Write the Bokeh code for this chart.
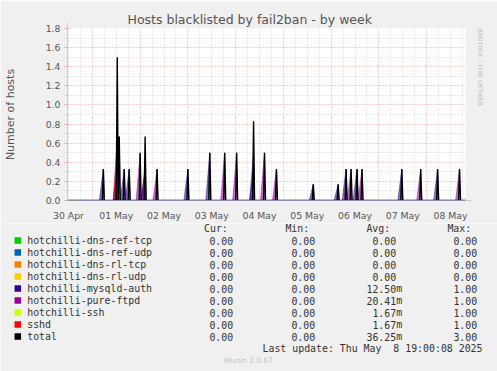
import numpy as np
import pandas as pd
from bokeh.plotting import figure
from bokeh.models import (Range1d, FixedTicker, Grid, Title, PrintfTickFormatter,
                          DatetimeTickFormatter, ColumnDataSource, Arrow, NormalHead)
from bokeh.layouts import column
from bokeh.embed import file_html
from bokeh.resources import INLINE
from bokeh.core.properties import value

# ---------------- data ----------------
title_text = "Hosts blacklisted by fail2ban - by week"
y_label = "Number of hosts"
x_start = "2025-04-30 11:30"
x_end = "2025-05-08 19:30"
label_days = ["2025-04-30", "2025-05-01", "2025-05-02", "2025-05-03", "2025-05-04",
              "2025-05-05", "2025-05-06", "2025-05-07", "2025-05-08"]
y_ticks = [0.0, 0.2, 0.4, 0.6, 0.8, 1.0, 1.2, 1.4, 1.6, 1.8]
y_minor = [0.1, 0.3, 0.5, 0.7, 0.9, 1.1, 1.3, 1.5, 1.7]

spike_times = ["2025-05-01 05:30", "2025-05-01 12:30", "2025-05-01 13:30", "2025-05-01 16:00",
               "2025-05-01 18:30", "2025-05-02 00:00", "2025-05-02 02:30", "2025-05-02 08:30",
               "2025-05-03 00:00", "2025-05-03 11:00", "2025-05-03 18:30", "2025-05-04 00:30",
               "2025-05-04 09:00", "2025-05-04 14:30", "2025-05-04 20:30", "2025-05-05 15:00",
               "2025-05-06 03:30", "2025-05-06 07:30", "2025-05-06 10:00", "2025-05-06 13:00",
               "2025-05-06 15:30", "2025-05-07 11:30", "2025-05-07 21:00", "2025-05-08 05:30",
               "2025-05-08 16:30"]
mysqld_auth = [0.33, 0.33, 0.00, 0.33, 0.33, 0.00, 0.33, 0.00, 0.33, 0.50, 0.00, 0.00, 0.50,
               0.00, 0.00, 0.17, 0.17, 0.33, 0.00, 0.33, 0.00, 0.33, 0.00, 0.33, 0.00]
pure_ftpd = [0.00, 0.67, 0.67, 0.00, 0.00, 0.50, 0.34, 0.33, 0.00, 0.00, 0.50, 0.50, 0.33,
             0.50, 0.33, 0.00, 0.00, 0.00, 0.33, 0.00, 0.33, 0.00, 0.33, 0.00, 0.33]
sshd = [0.00, 0.50, 0.00, 0.00, 0.00, 0.00, 0.00, 0.00, 0.00, 0.00, 0.00, 0.00, 0.00,
        0.00, 0.00, 0.00, 0.00, 0.00, 0.00, 0.00, 0.00, 0.00, 0.00, 0.00, 0.00]

series_names = ["hotchilli-dns-ref-tcp", "hotchilli-dns-ref-udp", "hotchilli-dns-rl-tcp",
                "hotchilli-dns-rl-udp", "hotchilli-mysqld-auth", "hotchilli-pure-ftpd",
                "hotchilli-ssh", "sshd", "total"]
series_colors = ["#00cc00", "#0066b3", "#ff8000", "#ffcc00", "#330099", "#990099",
                 "#ccff00", "#ff0000", "#000000"]
cur_vals = [0.00, 0.00, 0.00, 0.00, 0.00, 0.00, 0.00, 0.00, 0.00]
min_vals = [0.00, 0.00, 0.00, 0.00, 0.00, 0.00, 0.00, 0.00, 0.00]
avg_vals = [0.00, 0.00, 0.00, 0.00, 0.01250, 0.02041, 0.00167, 0.00167, 0.03625]
max_vals = [0.00, 0.00, 0.00, 0.00, 1.00, 1.00, 1.00, 1.00, 3.00]
col_headers = ["Cur:", "Min:", "Avg:", "Max:"]
last_update = "Last update: Thu May\u00a0 8 19:00:08 2025"
footer = "Munin 2.0.67"
side_text = "RRDTOOL / TOBI OETIKER"


def ms(ts):
    return pd.to_datetime(ts).value / 1e6


W = 497
H1 = 223
H2 = 148

# ---------------- main chart ----------------
p = figure(width=W, height=H1, x_axis_type="datetime",
           x_range=Range1d(ms(x_start), ms(x_end)), y_range=Range1d(0, 1.8),
           output_backend="svg", toolbar_location=None,
           min_border_left=67, min_border_right=30, min_border_top=28, min_border_bottom=20,
           background_fill_color="white", border_fill_color="#f0f0f0",
           outline_line_color=None)
p.frame_align = False

p.title.text = title_text
p.title.align = "left"
p.title.offset = 60
p.title.standoff = 4
p.title.text_font = "DejaVu Sans"
p.title.text_font_size = "12.5px"
p.title.text_font_style = "normal"
p.title.text_color = "#555555"

days = pd.to_datetime(label_days)
noon_ticks = [ms(d + pd.Timedelta(hours=12)) for d in days]
midnights = [ms(d) for d in days] + [ms(days[-1] + pd.Timedelta(days=1))]
six_hours = []
for d in days:
    for h in (6, 12, 18):
        six_hours.append(ms(d + pd.Timedelta(hours=h)))

xa = p.xaxis[0]
xa.ticker = FixedTicker(ticks=noon_ticks)
xa.formatter = DatetimeTickFormatter(days="%d %b", hours="%d %b", months="%d %b",
                                     strip_leading_zeros=False)
xa.major_tick_line_color = None
xa.minor_tick_line_color = None
xa.major_label_standoff = 3
xa.major_label_text_font = "DejaVu Sans"
xa.major_label_text_font_size = "9.3px"
xa.major_label_text_color = "#555555"
xa.axis_line_color = "#8c8cb0"

ya = p.yaxis[0]
ya.ticker = FixedTicker(ticks=y_ticks, minor_ticks=y_minor)
ya.formatter = PrintfTickFormatter(format="%.1f")
ya.major_tick_out = 3
ya.major_tick_in = 0
ya.major_tick_line_color = "#f0a0a0"
ya.minor_tick_out = 2
ya.minor_tick_in = 0
ya.minor_tick_line_color = "#c8c8c8"
ya.major_label_standoff = 4
ya.major_label_text_font = "DejaVu Sans"
ya.major_label_text_font_size = "9.3px"
ya.major_label_text_color = "#555555"
ya.axis_line_color = "#c8c8f0"
ya.axis_label = y_label
ya.axis_label_text_font = "DejaVu Sans"
ya.axis_label_text_font_size = "11px"
ya.axis_label_text_font_style = "normal"
ya.axis_label_text_color = "#555555"
ya.axis_label_standoff = 26

# grids
p.xgrid.visible = False
p.ygrid.visible = False
p.add_layout(Grid(dimension=0, ticker=FixedTicker(ticks=six_hours),
                  grid_line_color="#d4d4d4", grid_line_dash="1 2"))
p.add_layout(Grid(dimension=1, ticker=FixedTicker(ticks=y_minor),
                  grid_line_color="#d4d4d4", grid_line_dash="1 2"))
p.add_layout(Grid(dimension=0, ticker=FixedTicker(ticks=midnights),
                  grid_line_color="#f0a0a0", grid_line_dash="1 2"))
p.add_layout(Grid(dimension=1, ticker=FixedTicker(ticks=y_ticks[1:]),
                  grid_line_color="#f0a0a0", grid_line_dash="1 2"))

# spike shading for each component series
spk = pd.to_datetime(spike_times)
comp = [(pure_ftpd, "#990099"), (mysqld_auth, "#330099"), (sshd, "#ff0000")]
for vals, col in comp:
    xs, ys = [], []
    for t, v in zip(spk, vals):
        if v > 0:
            xs.append([ms(t - pd.Timedelta(minutes=120)), ms(t), ms(t + pd.Timedelta(minutes=30))])
            ys.append([0, v, 0])
    p.patches(xs, ys, fill_color=col, fill_alpha=0.55, line_color=col, line_alpha=0.6,
              line_width=0.8)

# total line on the 30-minute grid
grid_t = pd.date_range(x_start, x_end, freq="30min")
total = np.zeros(len(grid_t))
for t, a, b, c in zip(spk, mysqld_auth, pure_ftpd, sshd):
    total[grid_t.get_loc(t)] += a + b + c
src = ColumnDataSource(dict(x=[ms(t) for t in grid_t], y=total))
p.line("x", "y", source=src, line_color="black", line_width=1.4)

# axis arrows
p.add_layout(Arrow(end=NormalHead(size=6, fill_color="#c8c8f0", line_color="#c8c8f0"),
                   x_start=ms(x_start), y_start=1.8, x_end=ms(x_start), y_end=1.86,
                   line_color="#c8c8f0", line_width=1))
p.add_layout(Arrow(end=NormalHead(size=6, fill_color="#c8c8f0", line_color="#c8c8f0"),
                   x_start=ms(x_end), y_start=0, x_end=ms(x_end) + 3 * 3600e3, y_end=0,
                   line_color="#c8c8f0", line_width=1))

side = Title(text=side_text, align="left", text_font="DejaVu Sans", text_font_size="6px",
             text_font_style="normal", text_color="#c0c0c0", standoff=23)
p.add_layout(side, "right")

# ---------------- legend ----------------
top = H1
q = figure(width=W, height=H2, x_range=Range1d(0, W), y_range=Range1d(top + H2, top),
           output_backend="svg", toolbar_location=None, x_axis_location=None,
           y_axis_location=None, min_border=0, min_border_left=0, min_border_right=0,
           min_border_top=0, min_border_bottom=0, outline_line_color=None,
           background_fill_color="#f0f0f0", border_fill_color="#f0f0f0")
q.frame_align = False
q.xgrid.visible = False
q.ygrid.visible = False

mono = value("DejaVu Sans Mono")
rows_y = [240 + 12 * i for i in range(len(series_names))]
tcol = "#333333"


def fmt(v):
    if v != 0 and abs(v) < 1:
        return "%.2f" % (v * 1000), "m"
    return "%.2f" % v, ""


q.rect(x=[17.3] * len(rows_y), y=rows_y, width=6.5, height=6.5,
       fill_color=series_colors, line_color=None)
q.text(x=[26.7] * len(rows_y), y=rows_y, text=series_names, text_font=mono,
       text_font_size="9.9px", text_color=tcol, text_baseline="middle", text_align="left")

col_right = [232.7, 314.7, 395.7, 476.7]
head_right = [227.3, 308.7, 389.7, 470.7]
q.text(x=head_right, y=[227.5] * 4, text=col_headers, text_font=mono,
       text_font_size="9.9px", text_color=tcol, text_baseline="middle", text_align="right")
for xr, vals in zip(col_right, [cur_vals, min_vals, avg_vals, max_vals]):
    nums = [fmt(v)[0] for v in vals]
    sufs = [fmt(v)[1] for v in vals]
    q.text(x=[xr] * len(vals), y=rows_y, text=nums, text_font=mono, text_font_size="9.9px",
           text_color=tcol, text_baseline="middle", text_align="right")
    q.text(x=[xr] * len(vals), y=rows_y, text=sufs, text_font=mono, text_font_size="9.9px",
           text_color=tcol, text_baseline="middle", text_align="left")

q.text(x=[482], y=[348], text=[last_update], text_font=mono, text_font_size="9.9px",
       text_color=tcol, text_baseline="middle", text_align="right")
q.text(x=[248], y=[360], text=[footer], text_font=value("DejaVu Sans"),
       text_font_size="7.5px", text_color="#c4c4c4", text_baseline="middle", text_align="center")

layout = column(p, q, spacing=0)
open("out.html", "w").write(file_html(layout, INLINE))
